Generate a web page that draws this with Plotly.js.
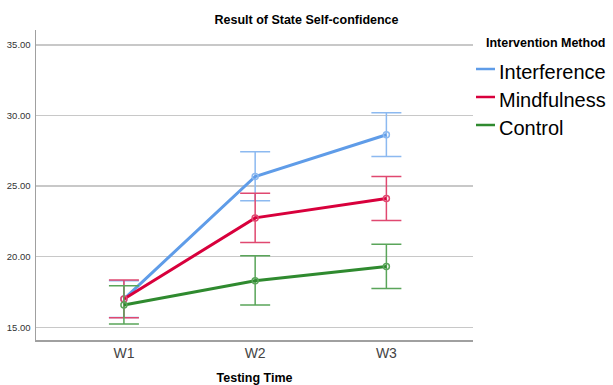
<!DOCTYPE html>
<html>
<head>
<meta charset="utf-8">
<script src="https://cdn.plot.ly/plotly-3.0.1.min.js"></script>
<style>
  html, body { margin: 0; padding: 0; background: #fff; }
  #chart { width: 613px; height: 385px; }
</style>
</head>
<body>
<div id="chart"></div>
<script>
// Testing times on the x axis
const times = ["W1", "W2", "W3"];

// Group means of state self-confidence
const interferenceMean = [17.0, 25.68, 28.64];
const mindfulnessMean  = [17.0, 22.75, 24.12];
const controlMean      = [16.58, 18.30, 19.30];

// Confidence interval bounds
const interferenceLow  = [15.70, 23.96, 27.10];
const interferenceHigh = [18.30, 27.43, 30.20];
const mindfulnessLow   = [15.68, 21.00, 22.56];
const mindfulnessHigh  = [18.35, 24.50, 25.68];
const controlLow       = [15.23, 16.58, 17.74];
const controlHigh      = [17.95, 20.06, 20.89];

const groupNames = ["Interference", "Mindfulness", "Control"];
const legendTitle = "Intervention Method";
const yTicks = [15, 20, 25, 30, 35];
const yTickText = ["15.00", "20.00", "25.00", "30.00", "35.00"];

const lineColors = ["#5f9ce8", "#d8003c", "#2f8a2f"];
const barColors  = ["#8cb9f0", "#e04870", "#5aa55a"];

function series(name, mean, low, high, color, barColor) {
  return {
    type: "scatter",
    mode: "lines+markers",
    name: name,
    x: times,
    y: mean,
    line: { color: color, width: 3 },
    marker: { symbol: "circle-open", size: 6, color: barColor, line: { width: 1.5 } },
    error_y: {
      type: "data",
      symmetric: false,
      array: high.map((h, i) => h - mean[i]),
      arrayminus: mean.map((m, i) => m - low[i]),
      color: barColor,
      thickness: 1.5,
      width: 15
    }
  };
}

const data = [
  series(groupNames[0], interferenceMean, interferenceLow, interferenceHigh, lineColors[0], barColors[0]),
  series(groupNames[1], mindfulnessMean, mindfulnessLow, mindfulnessHigh, lineColors[1], barColors[1]),
  series(groupNames[2], controlMean, controlLow, controlHigh, lineColors[2], barColors[2])
];

// Legend drawn at the right of the plot: a short coloured line plus label per group
const W = 613, H = 385;
const legendRows = [69, 97, 125];
const annotations = [
  {
    text: "<b>" + legendTitle + "</b>",
    xref: "paper", yref: "paper",
    x: 484 / W, y: 1 - 43 / H,
    xanchor: "left", yanchor: "middle",
    showarrow: false,
    font: { size: 12.5, color: "#000" }
  }
];
const shapes = [];
groupNames.forEach((name, i) => {
  annotations.push({
    text: name,
    xref: "paper", yref: "paper",
    x: 497 / W, y: 1 - (legendRows[i] + 3) / H,
    xanchor: "left", yanchor: "middle",
    showarrow: false,
    font: { size: 20, color: "#000" }
  });
  shapes.push({
    type: "line",
    xref: "paper", yref: "paper",
    x0: 476 / W, x1: 495 / W,
    y0: 1 - legendRows[i] / H, y1: 1 - legendRows[i] / H,
    line: { color: lineColors[i], width: 2.5 }
  });
});

// Paper coordinates here span the whole container so the legend math above works
const layout = {
  width: W,
  height: H,
  margin: { l: 36, r: 140, t: 30, b: 45 },
  paper_bgcolor: "#ffffff",
  plot_bgcolor: "#ffffff",
  font: { family: "Liberation Sans, Arial, sans-serif", color: "#000" },
  showlegend: false,
  title: {
    text: "<b>Result of State Self-confidence</b>",
    font: { size: 12.5, color: "#000" },
    x: 0.5, xref: "container", xanchor: "center",
    y: 1 - 20 / H, yref: "container", yanchor: "middle"
  },
  xaxis: {
    type: "category",
    range: [-0.67, 2.66],
    showgrid: false,
    zeroline: false,
    showline: true,
    linecolor: "#a0a0a0",
    linewidth: 1.5,
    ticks: "",
    tickfont: { size: 14, color: "#444" },
    title: { text: "<b>Testing Time</b>", font: { size: 12.5, color: "#000" }, standoff: 14 }
  },
  yaxis: {
    range: [14.1, 36.06],
    tickvals: yTicks,
    ticktext: yTickText,
    showgrid: true,
    gridcolor: "#c8c8c8",
    gridwidth: 1.5,
    zeroline: false,
    showline: true,
    linecolor: "#a0a0a0",
    linewidth: 1.5,
    ticks: "",
    ticklabelstandoff: 2,
    tickfont: { size: 9.5, color: "#333" }
  },
  annotations: [],
  shapes: []
};

// Convert container pixel fractions to plot-paper fractions for legend items
const plotW = W - layout.margin.l - layout.margin.r;
const plotH = H - layout.margin.t - layout.margin.b;
function px(xFrac) { return (xFrac * W - layout.margin.l) / plotW; }
function py(yFrac) { return (yFrac * H - layout.margin.b) / plotH; }
layout.annotations = annotations.map(a => Object.assign({}, a, { x: px(a.x), y: py(a.y) }));
layout.shapes = shapes.map(s => Object.assign({}, s, { x0: px(s.x0), x1: px(s.x1), y0: py(s.y0), y1: py(s.y1) }));

Plotly.newPlot("chart", data, layout, { displayModeBar: false, staticPlot: true });
</script>
</body>
</html>
